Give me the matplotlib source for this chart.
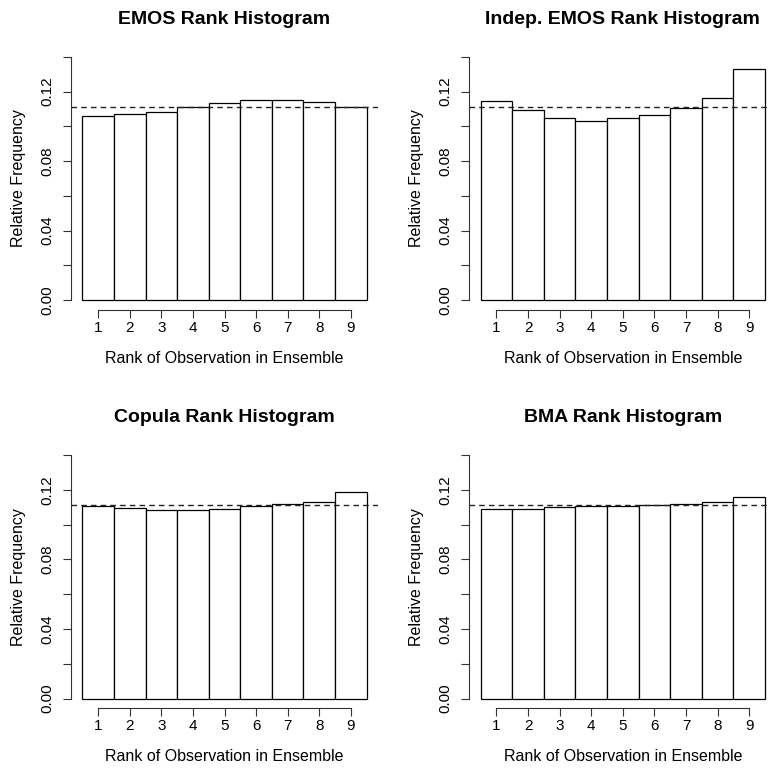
import numpy as np
import matplotlib
matplotlib.use("Agg")
import matplotlib.pyplot as plt

plt.rcParams['font.family'] = ['Liberation Sans', 'DejaVu Sans']

# relative frequencies of the observation rank
ranks = [1, 2, 3, 4, 5, 6, 7, 8, 9]
emos = [0.1062, 0.1072, 0.1082, 0.1110, 0.1135, 0.1151, 0.1149, 0.1137, 0.1110]
indep_emos = [0.1146, 0.1093, 0.1046, 0.1033, 0.1046, 0.1066, 0.1104, 0.1162, 0.1327]
copula = [0.1107, 0.1093, 0.1084, 0.1082, 0.1091, 0.1105, 0.1120, 0.1130, 0.1187]
bma = [0.1087, 0.1091, 0.1099, 0.1105, 0.1107, 0.1112, 0.1118, 0.1128, 0.1160]

titles = ["EMOS Rank Histogram", "Indep. EMOS Rank Histogram",
          "Copula Rank Histogram", "BMA Rank Histogram"]
series = [emos, indep_emos, copula, bma]

yticks = [0, 0.02, 0.04, 0.06, 0.08, 0.10, 0.12, 0.14]
ylabels = ["0.00", "", "0.04", "", "0.08", "", "0.12", ""]

W, H = 768, 769
fig = plt.figure(figsize=(W / 100, H / 100), dpi=100)

# plot regions in pixels: (left, top)
boxes = [(71, 47), (469.3, 47), (71, 445.3), (469.3, 445.3)]
bw, bh = 307, 263

for (lx, ty), title, freq in zip(boxes, titles, series):
    ax = fig.add_axes([lx / W, 1 - (ty + bh) / H, bw / W, bh / H])
    ax.bar(ranks, freq, width=1, facecolor='white', edgecolor='black', linewidth=0.9)
    ax.axhline(1 / 9, color='#222222', lw=1.0, dashes=(4, 3))
    ax.set_xlim(0.14, 9.86)
    ax.set_ylim(-0.0056, 0.1456)
    for s in ['top', 'right']:
        ax.spines[s].set_visible(False)
    ax.spines['left'].set_bounds(0, 0.14)
    ax.spines['bottom'].set_bounds(1, 9)
    for s in ['left', 'bottom']:
        ax.spines[s].set_linewidth(0.8)
        ax.spines[s].set_color('#333333')
    ax.set_xticks(ranks)
    ax.set_xticklabels([str(r) for r in ranks])
    ax.set_yticks(yticks)
    ax.set_yticklabels(ylabels, rotation=90, va='center')
    ax.tick_params(direction='out', length=5.5, width=0.8, color='#333333',
                   labelsize=11)
    ax.tick_params(axis='x', pad=2.5)
    ax.tick_params(axis='y', pad=6.5)
    ax.annotate("Rank of Observation in Ensemble", xy=(0.5, 0), xycoords='axes fraction',
                xytext=(0, -35), textcoords='offset points',
                ha='center', va='center', fontsize=11.5)
    ax.annotate("Relative Frequency", xy=(0, 0.5), xycoords='axes fraction',
                xytext=(-38, 0), textcoords='offset points', rotation=90,
                ha='center', va='center', fontsize=11.5)
    ax.annotate(title, xy=(0.5, 1), xycoords='axes fraction',
                xytext=(0, 20), textcoords='offset points',
                ha='center', va='center', fontsize=14, fontweight='bold')

fig.savefig("out.png", dpi=100)
